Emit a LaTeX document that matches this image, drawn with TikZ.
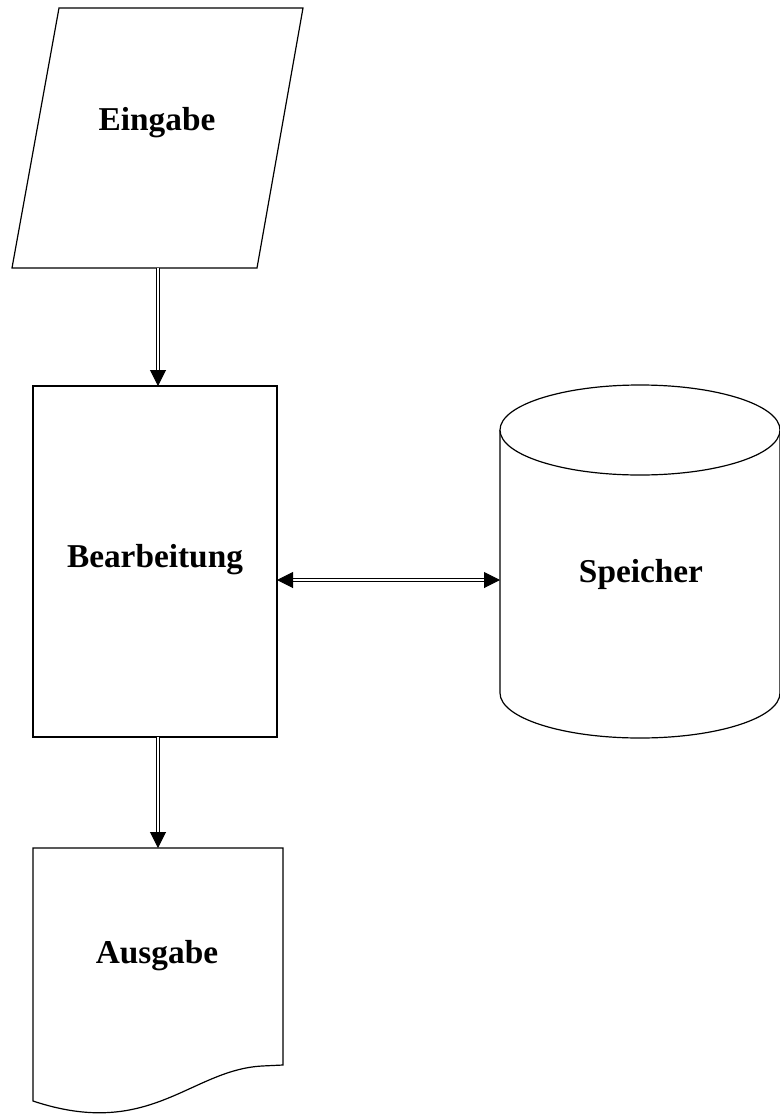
\documentclass[tikz,border=0pt]{standalone}
\usepackage{fontspec}
\setmainfont{Liberation Serif}
\usetikzlibrary{arrows.meta}

\tikzset{
  outline/.style={draw=black, line width=0.9pt, fill=white, line join=miter},
  lbl/.style={font=\fontsize{25}{30}\selectfont\bfseries, inner sep=0pt, anchor=base},
  flow/.style={double=white, draw=black, line width=0.75pt, double distance=1.5pt,
               -{Triangle[length=12pt,width=12pt]}},
  flowboth/.style={double=white, draw=black, line width=0.75pt, double distance=1.5pt,
               {Triangle[length=12pt,width=12pt]}-{Triangle[length=12pt,width=12pt]}},
}

\begin{document}
\begin{tikzpicture}[x=0.75pt,y=-0.75pt]
\useasboundingbox (0,0) rectangle (780,1117);

% input (parallelogram)
\draw[outline] (59,8) -- (303,8) -- (257,268) -- (12,268) -- cycle;
\node[lbl] (eingabe) at (157,130) {Eingabe};
\coordinate (eingabe-s) at (158,268);

% processing (rectangle)
\node[outline, minimum width=183pt, minimum height=263.25pt, inner sep=0pt] (proc) at (155,561.5) {};
\node[lbl] (bearbeitung) at (155,567) {Bearbeitung};
\coordinate (proc-n) at (158,386);
\coordinate (proc-s) at (158,737);
\coordinate (proc-e) at (277,580);

% storage (cylinder)
\draw[outline] (500,430) -- (500,693)
  .. controls (500,717.9) and (562.7,738) .. (640,738)
  .. controls (717.3,738) and (780,717.9) .. (780,693) -- (780,430);
\draw[outline] (640,430) ellipse [x radius=140, y radius=45];
\node[lbl] (speicher) at (641,582) {Speicher};
\coordinate (store-w) at (500,580);

% output (document)
\draw[outline] (33,848) -- (283,848) -- (283,1065) -- (262,1066)
  .. controls (190,1070) and (150,1140) .. (33,1101) -- cycle;
\node[lbl] (ausgabe) at (157,963) {Ausgabe};
\coordinate (ausgabe-n) at (158,848);

% connectors
\draw[flow] (eingabe-s) -- (proc-n);
\draw[flow] (proc-s) -- (ausgabe-n);
\draw[flowboth] (proc-e) -- (store-w);
\end{tikzpicture}
\end{document}
